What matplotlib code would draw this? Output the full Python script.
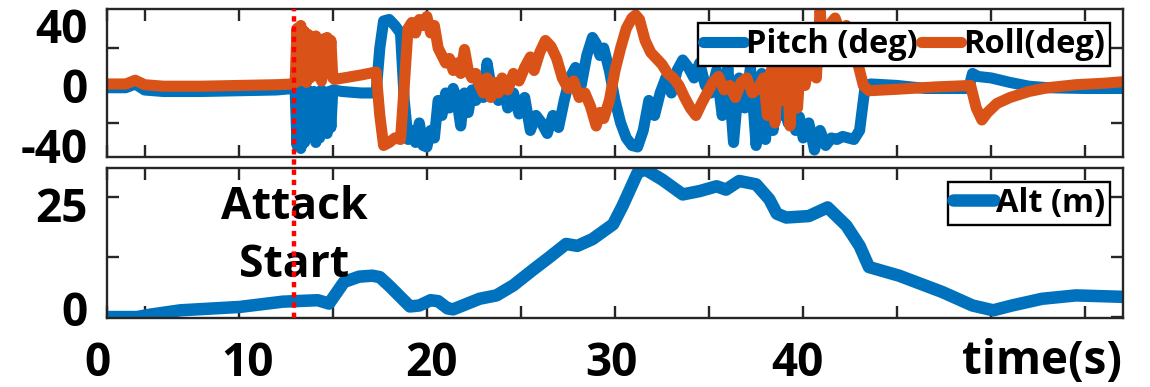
import matplotlib
matplotlib.use('Agg')
import matplotlib.pyplot as plt
from matplotlib import transforms as mtrans
from matplotlib.lines import Line2D

# ---------------- data ----------------
attack_t = 12.94

pitch_t = [3.0, 4.0, 4.5, 5.0, 6.0, 8.0, 10.0, 12.0, 12.9,
           13.0, 13.1, 13.2, 13.3, 13.4, 13.5, 13.6, 13.7, 13.8, 13.9, 14.0,
           14.1, 14.2, 14.3, 14.4, 14.5, 14.6, 14.7, 14.8, 14.9, 15.0,
           15.5, 16.5, 17.3, 17.5, 17.7, 18.0, 18.3, 18.6, 18.8,
           19.0, 19.2, 19.4, 19.6, 19.8, 20.0, 20.2, 20.4, 20.6, 20.8,
           21.0, 21.2, 21.4, 21.6, 21.8, 22.0, 22.2, 22.4, 22.6, 22.8,
           23.0, 23.2, 23.4, 23.6, 23.8, 24.0, 24.3, 24.6, 24.9, 25.2,
           25.5, 25.8, 26.1, 26.4, 26.7, 27.0, 27.3, 27.6, 27.9, 28.2,
           28.5, 28.8, 29.0, 29.2, 29.4, 29.7, 30.0, 30.3, 30.6, 30.9,
           31.2, 31.5, 31.8, 32.1, 32.4, 32.7, 33.0, 33.3, 33.6, 33.9,
           34.2, 34.5, 34.8, 35.1, 35.4, 35.7, 36.0, 36.3, 36.6, 36.9,
           37.2, 37.5, 37.8, 38.0, 38.2, 38.4, 38.6, 38.8, 39.0, 39.2,
           39.4, 39.6, 39.8, 40.0, 40.3, 40.6, 40.9, 41.2, 41.5, 41.8,
           42.1, 42.4, 42.7, 43.0, 43.3, 43.6, 45.0, 46.5, 48.8, 49.0,
           49.3, 50.0, 51.0, 52.0, 53.0, 55.0, 57.0]
pitch_v = [-1.5, -1.5, 1.0, -3.0, -4.0, -4.0, -3.5, -3.0, -2.0,
           -3, -40, -2, -42, -5, -38, -2, -35, -6, -33, -4,
           -38, -8, -35, -3, -30, -6, -32, -4, -28, -3,
           -4, -5, -5, 25, 43, 44, 40, 35, -10,
           -36, -30, -38, -25, -40, -41, -30, -35, -10, -20,
           -5, -15, -2, -10, -27, -5, -18, -3, -10, 5,
           -8, 15, 0, -5, -10, 3, -15, -5, -19, -8,
           -30, -20, -25, -32, -20, -28, -10, 5, 12, 0,
           20, 32, 28, 20, 25, 10, -10, -25, -35, -40,
           -41, -30, -10, -20, -5, 5, -5, 10, 17, 12,
           5, 15, 0, -5, 10, -20, 12, -38, 5, -15,
           12, -40, 8, -36, 0, -30, 10, -20, 15, -25,
           5, -30, -21, -35, -25, -43, -30, -40, -35, -36,
           -34, -35, -36, -30, 0, 1, 0, -2, -2, 8,
           6, 5, 2, -0.5, -1.5, -2, -2]

roll_t = [3.0, 4.0, 4.5, 5.0, 6.0, 8.0, 10.0, 12.0, 12.9,
          13.0, 13.1, 13.2, 13.3, 13.4, 13.5, 13.6, 13.7, 13.8, 13.9, 14.0,
          14.1, 14.2, 14.3, 14.4, 14.5, 14.6, 14.7, 14.8, 14.9, 15.0,
          15.1, 16.5, 17.3, 17.5, 17.7, 18.0, 18.3, 18.6, 18.8,
          19.0, 19.2, 19.4, 19.6, 19.8, 20.0, 20.2, 20.4, 20.6, 20.8,
          21.0, 21.2, 21.4, 21.6, 21.8, 22.0, 22.2, 22.4, 22.6, 22.8,
          23.0, 23.2, 23.4, 23.6, 23.8, 24.0, 24.3, 24.6, 24.9, 25.2,
          25.5, 25.7, 26.0, 26.3, 26.6, 26.9, 27.2, 27.5, 27.8, 28.1,
          28.4, 28.7, 29.0, 29.2, 29.4, 29.7, 30.0, 30.3, 30.6, 30.9,
          31.1, 31.3, 31.6, 31.9, 32.2, 32.5, 32.8, 33.1, 33.4, 33.7,
          34.0, 34.3, 34.6, 34.9, 35.2, 35.5, 35.8, 36.1, 36.4, 36.7,
          37.0, 37.3, 37.6, 37.9, 38.1, 38.3, 38.5, 38.7, 38.9, 39.1,
          39.3, 39.5, 39.7, 39.9, 40.1, 40.3, 40.5, 40.7, 40.9, 41.1,
          41.3, 41.5, 41.7, 41.9, 42.1, 42.3, 42.5, 42.8, 43.2, 43.5,
          45.0, 47.0, 48.9, 49.2, 49.5, 49.8, 50.3, 51.0, 52.0, 53.0,
          54.5, 56.0, 57.0]
roll_v = [1.0, 1.0, 3.5, 0.5, -0.5, -0.5, 0.0, 0.5, 1.0,
          2, 38, 3, 40, 4, 36, 2, 34, 5, 30, 8,
          33, 6, 30, 3, 31, 8, 32, 10, 30, 5,
          4, 7, 9, -20, -40, -38, -35, -36, 0,
          38, 42, 35, 44, 40, 46, 35, 40, 25, 20,
          15, 18, 10, 15, 8, 24, 10, 5, 8, 0,
          -5, 5, -8, 2, -5, 5, -3, 8, 3, 12,
          19, 10, 22, 30, 26, 18, 5, -2, 3, -8,
          -5, -14, -27, -18, -22, -10, 10, 25, 38, 45,
          47, 44, 30, 22, 18, 14, 8, 5, 0, -8,
          -15, -20, -12, -5, 2, 6, -3, 0, -8, 2,
          5, -5, -2, 5, -20, 10, -25, 15, -10, 20,
          -27, 10, -15, 25, 0, 15, 30, 5, 50, 20,
          35, 42, 45, 38, 30, 40, 35, 20, 0, -3.5,
          -2.5, -1, 0, -15, -23, -18, -12, -8, -4, -1.5,
          0.5, 1.5, 2.5]

alt_t = [3.0, 4.6, 5.3, 6.9, 10.05, 12.35, 14.2, 14.8, 15.6, 16.4, 17.1,
         17.5, 18.0, 19.1, 19.6, 20.2, 20.6, 21.1, 21.4, 22.8, 23.7,
         24.6, 25.6, 26.5, 27.4, 28.0, 28.8, 29.9, 30.4, 31.2, 31.6,
         32.5, 33.6, 34.5, 35.4, 35.9, 36.6, 37.5, 38.2, 38.6, 39.1,
         40.3, 41.3, 42.3, 43.0, 43.5, 45.1, 47.4, 49.0, 50.1, 51.1,
         52.7, 54.5, 57.0]
alt_v = [0.0, 0.0, 0.5, 1.4, 2.1, 3.2, 3.5, 2.8, 7.3, 8.4, 8.6,
         8.3, 6.5, 2.2, 2.4, 3.5, 3.3, 1.8, 1.6, 3.8, 4.5,
         6.6, 9.7, 12.4, 15.2, 14.8, 16.2, 19.3, 23.1, 30.0, 30.7,
         28.6, 25.5, 26.2, 27.2, 26.5, 28.3, 27.6, 24.5, 21.5, 20.7,
         21.0, 22.8, 19.0, 14.8, 10.4, 8.6, 5.2, 2.4, 1.4, 2.4,
         3.8, 4.5, 4.2]

x_major = [3, 10, 20, 30, 40]
x_major_labels = ['0', '10', '20', '30', '40']
x_minor = [5, 15, 25, 35, 45, 50, 55]
top_label_ticks = [-40, 0, 40]
top_label_text = ['-40', '0', '40']
top_mark_ticks = [-25, 25]
bot_label_ticks = [0, 25]
bot_label_text = ['0', '25']
bot_mark_ticks = [12.5]

# ---------------- style ----------------
BLUE = '#0072BD'
ORANGE = '#D95319'
SPINE = '#262626'
FONT = 'Open Sans'
plt.rcParams['font.family'] = [FONT, 'DejaVu Sans']
plt.rcParams['font.weight'] = 'bold'

W, H = 1150, 387
fig = plt.figure(figsize=(W / 100, H / 100), dpi=100)
L, R = 107, 1123
ax1 = fig.add_axes([L / W, 1 - 157 / H, (R - L) / W, (157 - 9) / H])
ax2 = fig.add_axes([L / W, 1 - 318 / H, (R - L) / W, (318 - 168) / H])

ax1.plot(pitch_t, pitch_v, color=BLUE, lw=8, solid_joinstyle='round',
         solid_capstyle='round', label='Pitch (deg)')
ax1.plot(roll_t, roll_v, color=ORANGE, lw=8, solid_joinstyle='round',
         solid_capstyle='round', label='Roll(deg)')
ax2.plot(alt_t, alt_v, color=BLUE, lw=9, solid_joinstyle='round',
         solid_capstyle='round', label='Alt (m)')

for ax in (ax1, ax2):
    ax.set_xlim(3, 57)
    ax.set_xticks(x_major)
    ax.set_xticks(x_minor, minor=True)
    for s in ax.spines.values():
        s.set_color(SPINE)
        s.set_linewidth(1.7)
    ax.tick_params(which='both', direction='in', top=True, right=True,
                   length=8.5, width=1.7, color=SPINE, labelsize=33,
                   labelcolor='black')

ax1.set_ylim(-47.7, 51)
ax1.set_yticks(top_label_ticks, top_label_text)
ax1.set_yticks(top_mark_ticks, minor=True)
ax1.tick_params(axis='y', which='major', length=0, pad=14)
ax1.tick_params(axis='x', which='major', labelbottom=False)

ax2.set_ylim(-0.2, 31)
ax2.set_yticks(bot_label_ticks, bot_label_text)
ax2.set_yticks(bot_mark_ticks, minor=True)
ax2.tick_params(axis='y', which='major', pad=14)
ax2.set_xticklabels(x_major_labels)
ax2.tick_params(axis='x', which='major', pad=16)


def nudge(label, dx_px, dy_px):
    label.set_transform(label.get_transform() +
                        mtrans.ScaledTranslation(dx_px / 100, -dy_px / 100,
                                                 fig.dpi_scale_trans))


# tick labels sit slightly off their ticks in the reference
ylabs2 = ax2.get_yticklabels()
nudge(ylabs2[0], 0, -9)
nudge(ylabs2[1], 0, 7)
for lab, dx in zip(ax2.get_xticklabels(), [-10, 9, 5, -4, -6]):
    nudge(lab, dx, 0)

ax2.text(0.92, -0.13, 'time(s)', transform=ax2.transAxes, ha='center',
         va='top', fontsize=33, fontweight='bold')

# attack start marker across both panels
trans = mtrans.blended_transform_factory(ax2.transData, fig.transFigure)
fig.add_artist(Line2D([attack_t, attack_t], [1 - 318 / H, 1 - 9 / H],
                      transform=trans, color='red', lw=3.2,
                      linestyle=(0, (1.2, 1.1)), zorder=10))
ax2.text(attack_t, 16.7, 'Attack\nStart', ha='center', va='center',
         fontsize=32, fontweight='bold', linespacing=1.37, zorder=5)

leg_kw = dict(fancybox=False, edgecolor='black', framealpha=1, borderaxespad=0,
              handletextpad=0.05, borderpad=0.15, handlelength=1.25,
              prop={'family': FONT, 'weight': 'bold', 'size': 23.5})
lg1 = ax1.legend(loc='upper right', bbox_to_anchor=(0.987, 0.905), ncol=2,
                 columnspacing=0.1, **leg_kw)
lg2 = ax2.legend(loc='upper right', bbox_to_anchor=(0.987, 0.907), **leg_kw)
for lg in (lg1, lg2):
    lg.get_frame().set_linewidth(1.7)
    lg.set_zorder(20)

fig.savefig('out.png', dpi=100)
